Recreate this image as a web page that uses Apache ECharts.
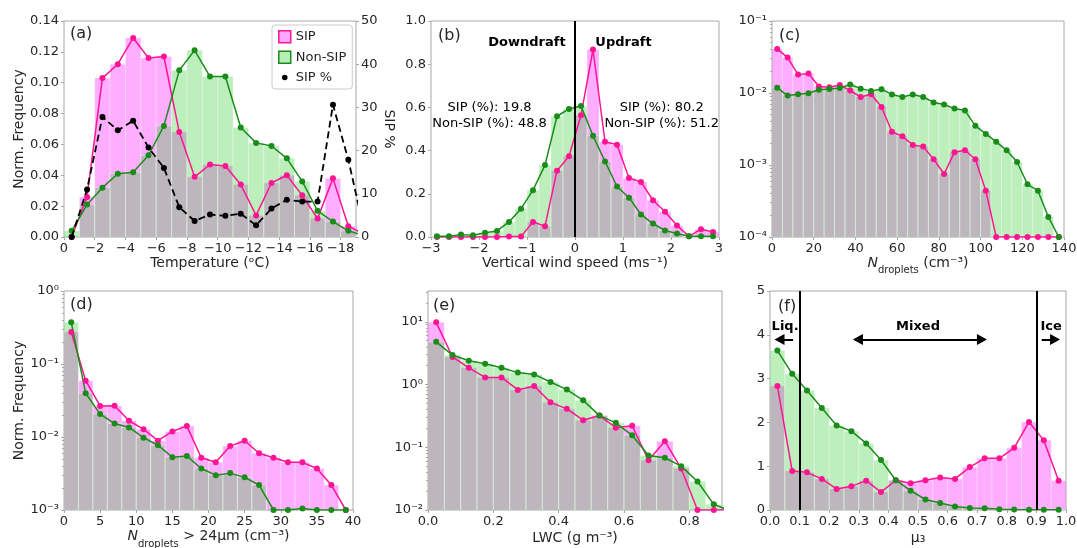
<!DOCTYPE html>
<html><head><meta charset="utf-8">
<script src="https://cdn.jsdelivr.net/npm/echarts@6/dist/echarts.min.js"></script>
<style>html,body{margin:0;padding:0;background:#fff}#c{width:1077px;height:548px}</style>
</head><body><div id="c"></div>
<script>
// ---------------- data ----------------
const tempCenters = [-0.5,-1.5,-2.5,-3.5,-4.5,-5.5,-6.5,-7.5,-8.5,-9.5,-10.5,-11.5,-12.5,-13.5,-14.5,-15.5,-16.5,-17.5,-18.5,-19.5];
const tempSIP     = [0,0.026,0.103,0.112,0.129,0.116,0.117,0.068,0.039,0.047,0.046,0.034,0.014,0.035,0.040,0.027,0.012,0.038,0.007,0.002];
const tempNonSIP  = [0.004,0.021,0.032,0.041,0.042,0.053,0.072,0.108,0.121,0.104,0.104,0.071,0.061,0.059,0.051,0.036,0.017,0.010,0.004,0.001];
const tempSIPpct  = [0,11.0,27.8,24.7,26.9,20.7,16.0,6.9,3.7,5.2,4.9,5.4,2.7,6.6,8.6,8.2,8.2,30.6,17.9,2.0];
const tempTicks   = [0,-2,-4,-6,-8,-10,-12,-14,-16,-18];

const wCenters = [-2.875,-2.625,-2.375,-2.125,-1.875,-1.625,-1.375,-1.125,-0.875,-0.625,-0.375,-0.125,0.125,0.375,0.625,0.875,1.125,1.375,1.625,1.875,2.125,2.375,2.625,2.875];
const wSIP     = [0,0,0,0,0,0,0.002,0.002,0.070,0.050,0.307,0.374,0.564,0.868,0.441,0.427,0.273,0.255,0.170,0.117,0.053,0.003,0.036,0.023];
const wNonSIP  = [0.003,0.003,0.011,0.008,0.020,0.028,0.070,0.131,0.217,0.333,0.559,0.593,0.606,0.469,0.350,0.234,0.182,0.104,0.062,0.030,0.016,0.003,0.003,0.003];
const wTexts   = ['Downdraft','Updraft','SIP (%): 19.8\nNon-SIP (%): 48.8','SIP (%): 80.2\nNon-SIP (%): 51.2'];

const ndCenters = [2.5,7.5,12.5,17.5,22.5,27.5,32.5,37.5,42.5,47.5,52.5,57.5,62.5,67.5,72.5,77.5,82.5,87.5,92.5,97.5,102.5,107.5,112.5,117.5,122.5,127.5,132.5,137.5];
const ndSIP     = [0.041,0.031,0.018,0.0187,0.0123,0.012,0.0129,0.0108,0.0088,0.0096,0.0064,0.0029,0.0025,0.0019,0.0018,0.0012,0.00075,0.0015,0.0016,0.0012,0.00044,0,0,0,0,0,0,0];
const ndNonSIP  = [0.0118,0.0092,0.0096,0.0099,0.0111,0.0114,0.0117,0.0131,0.0115,0.0107,0.0113,0.0095,0.0088,0.0095,0.0088,0.0074,0.0069,0.0061,0.0057,0.0035,0.0027,0.0021,0.0016,0.0011,0.00054,0.00044,0.00019,0.0001];

const nlCenters = [1,3,5,7,9,11,13,15,17,19,21,23,25,27,29,31,33,35,37,39];
const nlSIP     = [0.275,0.059,0.0266,0.0268,0.0167,0.0128,0.0089,0.0119,0.0142,0.0052,0.0045,0.0075,0.0089,0.0060,0.0052,0.0045,0.0045,0.0037,0.0022,0];
const nlNonSIP  = [0.374,0.0397,0.0206,0.0153,0.0135,0.0098,0.0077,0.0053,0.0055,0.0037,0.0030,0.0032,0.0028,0.0022,0,0,0.00105,0,0,0];

const lwcCenters = [0.025,0.075,0.125,0.175,0.225,0.275,0.325,0.375,0.425,0.475,0.525,0.575,0.625,0.675,0.725,0.775,0.825,0.875,0.925];
const lwcSIP     = [9.8,2.75,1.85,1.3,1.3,0.82,0.95,0.52,0.41,0.27,0.32,0.205,0.22,0.062,0.125,0.046,0,0,0];
const lwcNonSIP  = [4.8,2.95,2.4,2.15,1.85,1.55,1.45,1.1,0.83,0.56,0.32,0.245,0.155,0.074,0.068,0.050,0.0285,0.0123,0.0097];
const lwcTicks   = [0,0.2,0.4,0.6,0.8];

const muCenters = [0.025,0.075,0.125,0.175,0.225,0.275,0.325,0.375,0.425,0.475,0.525,0.575,0.625,0.675,0.725,0.775,0.825,0.875,0.925,0.975];
const muSIP     = [2.83,0.89,0.86,0.71,0.48,0.54,0.67,0.41,0.68,0.61,0.68,0.74,0.71,0.98,1.18,1.18,1.42,2.01,1.59,0.67];
const muNonSIP  = [3.64,3.11,2.73,2.33,1.93,1.80,1.52,1.14,0.68,0.44,0.24,0.16,0.08,0.045,0.04,0.015,0.01,0.008,0.005,0.005];
const muBounds  = [0.1,0.9];
const muTexts   = ['Liq.','Mixed','Ice'];

// ---------------- style ----------------
const FONT = 'DejaVu Sans';
const TXT = '#262626';
const SPINE = '#a8a8a8';
const PINK_LINE = '#ff1493';
const GREEN_LINE = '#1a8c1a';
const PINK_BAR = '#ff00ff';
const GREEN_BAR = '#32cd32';
const BAR_ALPHA = 0.32;

const SUP = {'-':'\u207B','0':'\u2070','1':'\u00B9','2':'\u00B2','3':'\u00B3','4':'\u2074','5':'\u2075','6':'\u2076','7':'\u2077','8':'\u2078','9':'\u2079'};
const logLabel = v => '10' + String(Math.round(Math.log10(v))).split('').map(c => SUP[c]).join('');
const minusLabel = v => (v < 0 ? '\u2212' + Math.abs(Math.round(v*100)/100) : String(Math.round(v*100)/100));
const fixed = n => v => Math.abs(v) < 1e-9 ? (0).toFixed(n) : v.toFixed(n);
function minorLogs(lo, hi) {
  const out = [];
  for (let e = Math.floor(lo); e < hi; e++) for (let k = 2; k < 10; k++) {
    const v = e + Math.log10(k); if (v > lo && v < hi) out.push(v);
  }
  return out;
}

const grids = [
  {left:64,  top:21,  width:292, height:216},
  {left:431, top:21,  width:288, height:216},
  {left:772, top:21,  width:292, height:216},
  {left:64,  top:291, width:289, height:219},
  {left:428, top:291, width:294, height:219},
  {left:770, top:291, width:296, height:219}
].map(g => Object.assign({show:true, borderColor:SPINE, borderWidth:1, backgroundColor:'transparent', containLabel:false, outerBoundsMode:'none'}, g));

const subRich = {
  t: {fontFamily:FONT, fontSize:14, color:TXT, lineHeight:20, verticalAlign:'top'},
  i: {fontFamily:FONT, fontSize:14, color:TXT, lineHeight:20, verticalAlign:'top', fontStyle:'italic'},
  s: {fontFamily:FONT, fontSize:10, color:TXT, lineHeight:10, verticalAlign:'bottom'}
};

function axisBase(extra) {
  const base = {
    type:'value', nameLocation:'middle',
    axisLine:{show:false, onZero:false},
    axisTick:{show:true, length:3, lineStyle:{color:SPINE}},
    axisLabel:{fontFamily:FONT, fontSize:13, color:TXT, margin:5},
    splitLine:{show:false},
    nameTextStyle:{fontFamily:FONT, fontSize:14, color:TXT, rich:subRich}
  };
  const out = Object.assign({}, base, extra);
  out.axisLabel = Object.assign({}, base.axisLabel, extra.axisLabel || {});
  out.axisTick = Object.assign({}, base.axisTick, extra.axisTick || {});
  return out;
}
function minorAxis(gi, lo, hi) {
  return {type:'value', gridIndex:gi, min:lo, max:hi, position:'left', name:'',
    axisLine:{show:false, onZero:false}, axisLabel:{show:false}, splitLine:{show:false}, splitArea:{show:false},
    axisTick:{show:true, length:2, customValues:minorLogs(lo, hi), lineStyle:{color:SPINE}}};
}

const xAxes = [
  axisBase({gridIndex:0, inverse:true, min:-19, max:0, name:'Temperature (\u1D52C)', nameGap:18,
    axisLabel:{customValues:tempTicks, formatter:minusLabel}, axisTick:{customValues:tempTicks}}),
  axisBase({gridIndex:1, min:-3, max:3, interval:1, name:'Vertical wind speed (ms\u207B\u00B9)', nameGap:18,
    axisLabel:{formatter:minusLabel}}),
  axisBase({gridIndex:2, min:0, max:140, interval:20, name:'{i|N}{s|droplets}{t| (cm\u207B\u00B3)}', nameGap:18}),
  axisBase({gridIndex:3, min:0, max:40, interval:5, name:'{i|N}{s|droplets}{t| > 24\u03BCm (cm\u207B\u00B3)}', nameGap:19}),
  axisBase({gridIndex:4, min:0, max:0.9, name:'LWC (g m\u207B\u00B3)', nameGap:21,
    axisLabel:{customValues:lwcTicks, formatter:fixed(1)}, axisTick:{customValues:lwcTicks}}),
  axisBase({gridIndex:5, min:0, max:1, interval:0.1, name:'\u03BC\u2083', nameGap:21,
    axisLabel:{formatter:fixed(1)}})
];

const yAxes = [
  axisBase({gridIndex:0, min:0, max:0.14, interval:0.02, name:'Norm. Frequency', nameGap:37, axisLabel:{formatter:fixed(2)}}),
  axisBase({gridIndex:0, position:'right', min:0, max:50, interval:10, name:'SIP %', nameGap:20, nameRotate:-90}),
  axisBase({gridIndex:1, min:0, max:1, interval:0.2, axisLabel:{formatter:fixed(1)}}),
  axisBase({gridIndex:2, type:'log', logBase:10, min:1e-4, max:1e-1, axisLabel:{formatter:logLabel}}),
  axisBase({gridIndex:3, type:'log', logBase:10, min:1e-3, max:1, name:'Norm. Frequency', nameGap:37, axisLabel:{formatter:logLabel}}),
  axisBase({gridIndex:4, type:'log', logBase:10, min:1e-2, max:31, axisLabel:{formatter:logLabel, showMaxLabel:false}}),
  axisBase({gridIndex:5, min:0, max:5, interval:1}),
  minorAxis(2, -4, -1),
  minorAxis(3, -3, 0),
  minorAxis(4, -2, Math.log10(31))
];

function barSeries(name, idx, yIdx, centers, values, binW, base, fill) {
  return {
    type:'custom', name, xAxisIndex:idx, yAxisIndex:yIdx, clip:true, silent:true, z:1,
    encode:{x:0, y:1},
    data: centers.map((c, i) => [c, values[i] > 0 ? values[i] : null]),
    renderItem(params, api) {
      const c = api.value(0), v = api.value(1);
      if (!(v > 0)) return null;
      const p1 = api.coord([c - binW/2, v]);
      const p2 = api.coord([c + binW/2, base]);
      return {type:'rect',
        shape:{x:Math.min(p1[0],p2[0]), y:Math.min(p1[1],p2[1]), width:Math.abs(p2[0]-p1[0]), height:Math.abs(p2[1]-p1[1])},
        style:{fill, stroke:'#ffffff', lineWidth:1, opacity:BAR_ALPHA}};
    }
  };
}
function lineSeries(name, idx, yIdx, centers, values, color, floor, extra) {
  return Object.assign({
    type:'line', name, xAxisIndex:idx, yAxisIndex:yIdx, clip:true, silent:true, z:3,
    data: centers.map((c, i) => [c, (floor !== undefined && !(values[i] > 0)) ? floor : values[i]]),
    symbol:'circle', symbolSize:6, showSymbol:true, showAllSymbol:true,
    lineStyle:{color, width:1.5}, itemStyle:{color}
  }, extra || {});
}

const series = [];
function panel(idx, yIdx, centers, sip, non, binW, base, floor) {
  series.push(barSeries('SIP', idx, yIdx, centers, sip, binW, base, PINK_BAR));
  series.push(barSeries('Non-SIP', idx, yIdx, centers, non, binW, base, GREEN_BAR));
  series.push(lineSeries('SIP', idx, yIdx, centers, sip, PINK_LINE, floor));
  series.push(lineSeries('Non-SIP', idx, yIdx, centers, non, GREEN_LINE, floor));
  return series[series.length - 1];
}
panel(0, 0, tempCenters, tempSIP, tempNonSIP, 1, 0);
series.push(lineSeries('SIP %', 0, 1, tempCenters, tempSIPpct, '#000000', undefined,
  {z:4, lineStyle:{color:'#000', width:1.8, type:[7,4]}}));
const bLine = panel(1, 2, wCenters, wSIP, wNonSIP, 0.25, 0);
panel(2, 3, ndCenters, ndSIP, ndNonSIP, 5, 1e-4, 1e-4);
panel(3, 4, nlCenters, nlSIP, nlNonSIP, 2, 1e-3, 1e-3);
panel(4, 5, lwcCenters, lwcSIP, lwcNonSIP, 0.05, 1e-2, 1e-2);
const fLine = panel(5, 6, muCenters, muSIP, muNonSIP, 0.05, 0);

const annoLabel = {show:true, position:'inside', fontFamily:FONT, fontSize:13, color:'#000', lineHeight:16, align:'center'};
bLine.markLine = {silent:true, animation:false, symbol:['none','none'], label:{show:false},
  lineStyle:{color:'#000', width:2, type:'solid'}, data:[{xAxis:0}]};
bLine.markPoint = {silent:true, animation:false, symbol:'rect', symbolSize:1, itemStyle:{color:'rgba(0,0,0,0)'},
  data:[
    {coord:[-1.0, 0.90], label:Object.assign({}, annoLabel, {formatter:wTexts[0], fontWeight:'bold'})},
    {coord:[1.01, 0.90], label:Object.assign({}, annoLabel, {formatter:wTexts[1], fontWeight:'bold'})},
    {coord:[-1.78, 0.563], label:Object.assign({}, annoLabel, {formatter:wTexts[2]})},
    {coord:[1.806, 0.563], label:Object.assign({}, annoLabel, {formatter:wTexts[3]})}
  ]};

const arrowY = 3.89, tri = {symbol:'triangle', symbolSize:[11,10]}, none = {symbol:'none'};
fLine.markLine = {silent:true, animation:false, symbol:['none','none'], label:{show:false},
  lineStyle:{color:'#000', width:2, type:'solid'},
  data:[
    {xAxis:muBounds[0]}, {xAxis:muBounds[1]},
    [Object.assign({coord:[0.078, arrowY]}, none), Object.assign({coord:[0.032, arrowY]}, tri)],
    [Object.assign({coord:[0.297, arrowY]}, tri), Object.assign({coord:[0.716, arrowY]}, tri)],
    [Object.assign({coord:[0.918, arrowY]}, none), Object.assign({coord:[0.963, arrowY]}, tri)]
  ]};
fLine.markPoint = {silent:true, animation:false, symbol:'rect', symbolSize:1, itemStyle:{color:'rgba(0,0,0,0)'},
  data:[
    {coord:[0.051, 4.19], label:Object.assign({}, annoLabel, {formatter:muTexts[0], fontWeight:'bold'})},
    {coord:[0.5, 4.19], label:Object.assign({}, annoLabel, {formatter:muTexts[1], fontWeight:'bold'})},
    {coord:[0.95, 4.19], label:Object.assign({}, annoLabel, {formatter:muTexts[2], fontWeight:'bold'})}
  ]};

const panelLabels = [['(a)',70,34],['(b)',438,35.5],['(c)',779,35.5],['(d)',70,305],['(e)',433,305.5],['(f)',778,307]];

const option = {
  animation:false,
  backgroundColor:'#ffffff',
  grid: grids,
  xAxis: xAxes,
  yAxis: yAxes,
  series,
  legend: {
    left:272, top:25, orient:'vertical', itemWidth:12, itemHeight:12, itemGap:7, padding:[5,6,5,6],
    backgroundColor:'rgba(255,255,255,0.85)', borderColor:'#cccccc', borderWidth:1, borderRadius:3,
    textStyle:{fontFamily:FONT, fontSize:13, color:TXT}, selectedMode:false,
    data:[
      {name:'SIP', icon:'rect', itemStyle:{color:'rgba(255,0,255,0.35)', borderColor:PINK_LINE, borderWidth:1.5}},
      {name:'Non-SIP', icon:'rect', itemStyle:{color:'rgba(50,205,50,0.35)', borderColor:GREEN_LINE, borderWidth:1.5}},
      {name:'SIP %', icon:'path://M0 0M12 12M3.2 6a2.8 2.8 0 1 0 5.6 0a2.8 2.8 0 1 0 -5.6 0Z', itemStyle:{color:'#000', borderWidth:0}}
    ]
  },
  graphic: panelLabels.map(([t, x, y]) => ({type:'text', x, y, silent:true,
    style:{text:t, font:'16px "' + FONT + '"', fill:TXT, verticalAlign:'middle', align:'left'}}))
};

const chart = echarts.init(document.getElementById('c'), null, {renderer:'canvas'});
chart.setOption(option);
</script></body></html>
